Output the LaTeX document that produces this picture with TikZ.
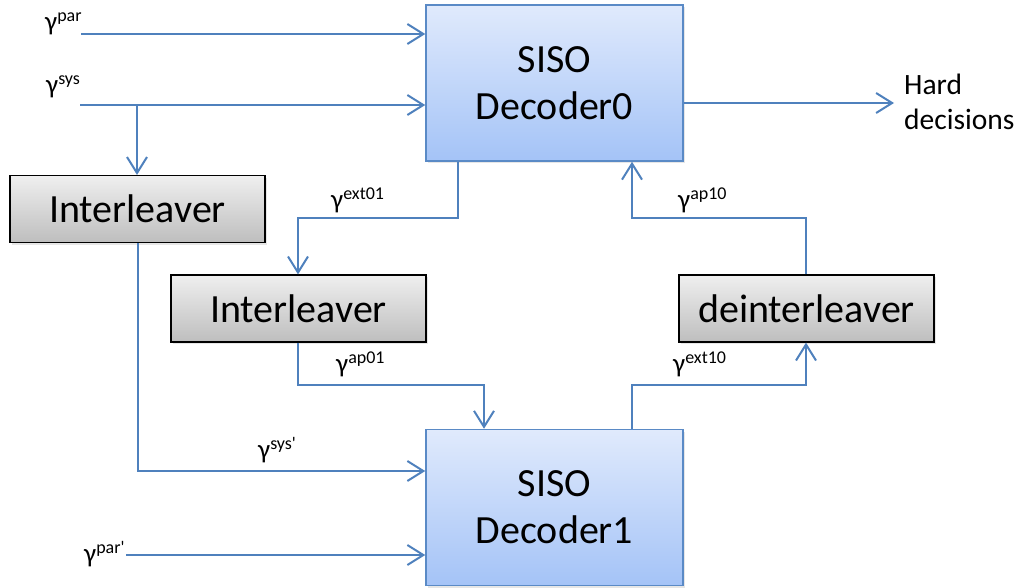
\documentclass[tikz,border=0pt]{standalone}
\usepackage{fontspec}
\setmainfont{Carlito}
\usetikzlibrary{arrows.meta,shadows}
\definecolor{lblue}{HTML}{4F81BD}
\definecolor{decborder}{HTML}{5A8AC6}
\definecolor{dectop}{HTML}{E0EAFC}
\definecolor{decbot}{HTML}{A4C3F7}
\definecolor{gtop}{HTML}{EFEFEF}
\definecolor{gbot}{HTML}{BEBEBE}
\begin{document}
\begin{tikzpicture}[x=1pt,y=-1pt,
  dec/.style={draw=decborder, line width=1.5pt, top color=dectop, bottom color=decbot,
    minimum width=257pt, minimum height=156pt, inner sep=0pt, align=center,
    font=\fontsize{40}{47}\selectfont,
    drop shadow={shadow xshift=2pt, shadow yshift=-2pt, opacity=0.2}},
  ilv/.style={draw=black, line width=1.2pt, top color=gtop, bottom color=gbot,
    minimum width=255pt, minimum height=67pt, inner sep=0pt,
    font=\fontsize{40}{47}\selectfont,
    drop shadow={shadow xshift=2pt, shadow yshift=-2pt, opacity=0.2}},
  conn/.style={draw=lblue, line width=2pt, -{Straight Barb[length=16pt,width=20pt,line width=2pt]}},
  lbl/.style={font=\fontsize{27}{30}\selectfont, inner sep=0pt, anchor=base west},
]
\useasboundingbox (0,0) rectangle (1019,587);
\newcommand{\gsup}[1]{γ\textsuperscript{\fontsize{18}{20}\selectfont\raisebox{-1pt}{#1}}}

% nodes
\node[dec] (dec0) at (554.5,83) {SISO\\Decoder0};
\node[dec] (dec1) at (554.5,507.5) {SISO\\Decoder1};
\node[ilv] (ilv1) at (137.5,209) {Interleaver};
\node[ilv] (ilv2) at (298.5,308.5) {Interleaver};
\node[ilv] (deilv) at (806.5,308.5) {deinterleaver};

% labels
\node[lbl] (lpar) at (45,30) {\gsup{par}};
\node[lbl] (lsys) at (46,93) {\gsup{sys}};
\node[lbl] (lext01) at (331,208) {\gsup{ext01}};
\node[lbl] (lap01) at (336,372) {\gsup{ap01}};
\node[lbl] (lap10) at (678,208) {\gsup{ap10}};
\node[lbl] (lext10) at (673,372) {\gsup{ext10}};
\node[lbl] (lsysp) at (258,458) {\gsup{sys\textquotesingle}};
\node[lbl] (lparp) at (84,562) {\gsup{par\textquotesingle}};
\node[font=\fontsize{29.5}{35}\selectfont, align=left, inner sep=0pt, anchor=north west] (hard) at (904,74) {Hard\\decisions};

% coordinates
\coordinate (psrc) at (81,34);
\coordinate (ssrc) at (80,105);
\coordinate (br) at (137,105);
\coordinate (hd) at (894,103);
\coordinate (pps) at (126,555);

% connectors
\draw[conn] (psrc) -- (psrc -| dec0.west);
\draw[conn] (ssrc) -- (ssrc -| dec0.west);
\draw[conn] (br) -- (br |- ilv1.north);
\draw[conn] (hd -| dec0.east) -- (hd);
\draw[conn] (ilv1.south) |- (137,471 -| dec1.west);
\draw[conn] (pps) -- (pps -| dec1.west);
\draw[conn] (458,0 |- dec0.south) -- (458,218) -- (298,218) -- (298,0 |- ilv2.north);
\draw[conn] (298,0 |- ilv2.south) -- (298,385) -- (484,385) -- (484,0 |- dec1.north);
\draw[conn] (632,0 |- dec1.north) -- (632,385) -- (806,385) -- (806,0 |- deilv.south);
\draw[conn] (806,0 |- deilv.north) -- (806,218) -- (632,218) -- (632,0 |- dec0.south);
\end{tikzpicture}
\end{document}
